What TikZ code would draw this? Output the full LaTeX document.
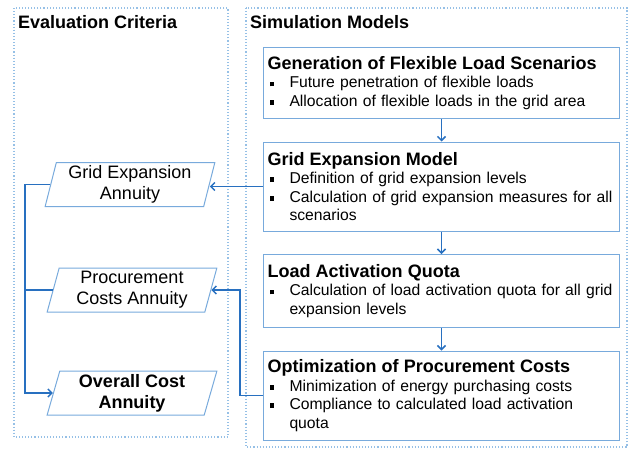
\documentclass[tikz,border=0pt]{standalone}
\usepackage{fontspec}
\setmainfont{Liberation Sans}
\usepackage{xcolor}
\definecolor{lineblue}{RGB}{40, 112, 192}
\definecolor{boxblue}{RGB}{120, 170, 220}
\definecolor{dotblue}{RGB}{150, 192, 230}
\usetikzlibrary{positioning, shapes.geometric, arrows.meta}

% bullet line with hanging indent
\newcommand{\bitem}[1]{\par\hangindent=22pt\hangafter=1\noindent
  \makebox[22pt][l]{\hspace{2pt}\rule[1.5pt]{4.8pt}{4.8pt}}#1\par}

\begin{document}
\begin{tikzpicture}[x=1pt, y=-1pt,
	outerbox/.style={dotblue, line width=1.1pt, dotted},
	model/.style={draw=boxblue, line width=1pt, anchor=north west, inner sep=4pt,
		text width=348pt, align=left, font=\fontsize{15.7}{18.5}\selectfont},
	crit/.style={trapezium, trapezium left angle=77, trapezium right angle=103,
		trapezium stretches=true, draw=boxblue, line width=1pt, minimum width=170pt,
		minimum height=44pt, inner sep=2pt, align=center,
		font=\fontsize{18}{21}\selectfont},
	arr/.style={lineblue, line width=1.5pt, -{Straight Barb[length=4pt, width=8pt]}},
	link/.style={lineblue, line width=1.5pt},
	node distance=22.5pt]
	\useasboundingbox (0,0) rectangle (628,448);
	\draw[outerbox] (14,8) rectangle (228,437);
	\draw[outerbox] (246,8) rectangle (627,447);
	\node[anchor=base west, inner sep=0pt, font=\fontsize{18}{21}\selectfont\bfseries]
		(evaltitle) at (18,28) {Evaluation Criteria};
	\node[anchor=base west, inner sep=0pt, font=\fontsize{18}{21}\selectfont\bfseries]
		(simtitle) at (250,28) {Simulation Models};

	% simulation models
	\node[model, minimum height=71pt] (gen) at (263,47) {{\fontsize{18}{20}\selectfont\bfseries Generation of Flexible Load Scenarios}
		\bitem{Future penetration of flexible loads}
		\bitem{Allocation of flexible loads in the grid area}};
	\node[model, minimum height=89pt, below=of gen] (gem) {{\fontsize{18}{20}\selectfont\bfseries Grid Expansion Model}
		\bitem{Definition of grid expansion levels}
		\bitem{Calculation of grid expansion measures for all\newline scenarios}};
	\node[model, minimum height=73pt, below=of gem] (laq) {{\fontsize{18}{20}\selectfont\bfseries Load Activation Quota}
		\bitem{Calculation of load activation quota for all grid\newline expansion levels}};
	\node[model, minimum height=89pt, below=of laq] (opt) {{\fontsize{18}{20}\selectfont\bfseries Optimization of Procurement Costs}
		\bitem{Minimization of energy purchasing costs}
		\bitem{Compliance to calculated load activation\newline quota}};

	% evaluation criteria
	\node[crit] (gea) at (130,184.5) {Grid Expansion\\Annuity};
	\node[crit] (pca) at (132,290) {Procurement\\Costs Annuity};
	\node[crit, font=\fontsize{18}{21}\selectfont\bfseries] (oca) at (132,393) {Overall Cost\\Annuity};
	\coordinate (trunk) at (25,0);
	\coordinate (bend) at (240,0);

	\draw[arr] (gen) -- (gem);
	\draw[arr] (gem) -- (laq);
	\draw[arr] (laq) -- (opt);
	\draw[arr] (gem.west) -- (gem.west -| gea.east);
	\draw[arr] (opt.west) -- (opt.west -| bend) |- (pca.east);
	\draw[arr] (gea.west) -- (gea.west -| trunk) |- (oca.west);
	\draw[link] (pca.west) -- (pca.west -| trunk);
\end{tikzpicture}
\end{document}
